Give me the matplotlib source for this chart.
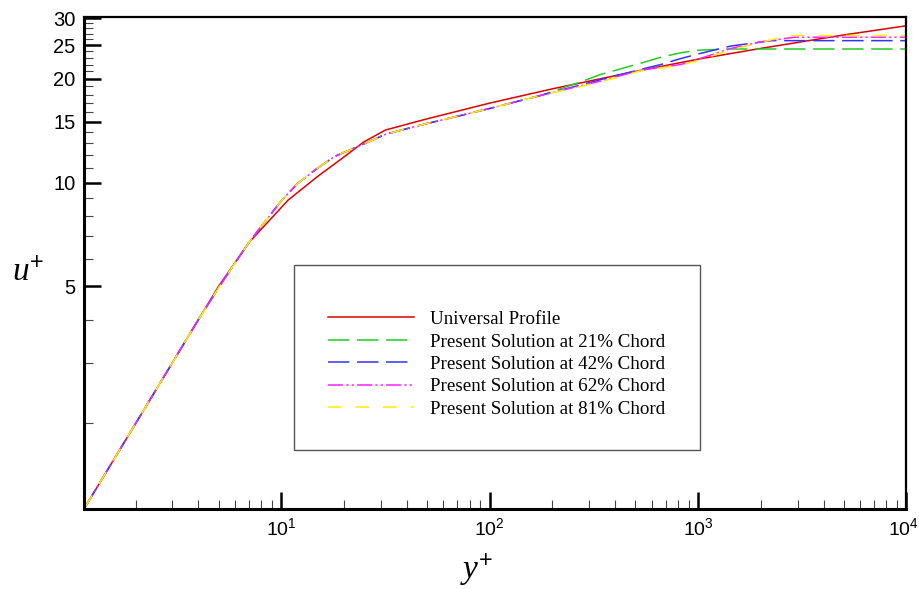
import matplotlib

matplotlib.use("Agg")
import matplotlib.pyplot as plt
from matplotlib.patches import Rectangle
from matplotlib.transforms import ScaledTranslation
from matplotlib.ticker import FixedLocator, FixedFormatter, LogLocator, NullFormatter

plt.rcParams["mathtext.fontset"] = "custom"
plt.rcParams["mathtext.rm"] = "Liberation Sans"
plt.rcParams["mathtext.it"] = "Liberation Serif:italic"
plt.rcParams["mathtext.bf"] = "Liberation Sans:bold"

# Universal law of the wall
yplus_univ = [1.14, 2, 3, 4, 5, 7, 10.8, 14.9, 20.7, 24.8, 31.6, 50, 100, 200, 500, 1000, 2000, 5000, 10000]
uplus_univ = [1.14, 2, 3, 4, 5, 6.7, 8.9, 10.4, 12.05, 13.1, 14.2, 15.3, 17.0, 18.7, 21.0, 22.8, 24.5, 26.8, 28.5]

# inner part shared by all computed stations
yplus_inner = [1.14, 2, 3, 4, 5, 6, 7, 8, 10, 12, 14.6, 18, 23.2, 31.6, 45, 65, 100, 176]
uplus_inner = [1.14, 2, 3, 4, 4.95, 5.85, 6.7, 7.45, 8.85, 9.95, 10.9, 11.9, 12.7, 13.8, 14.6, 15.4, 16.4, 17.9]

yplus_21 = [274, 342, 532, 664, 828, 1000, 1393, 10000]
uplus_21 = [19.6, 20.6, 22.2, 23.1, 23.8, 24.2, 24.4, 24.4]

yplus_42 = [274, 342, 532, 664, 828, 1000, 1442, 2244, 10000]
uplus_42 = [19.2, 19.9, 21.3, 22.0, 22.9, 23.6, 24.9, 25.8, 25.8]

yplus_62 = [274, 342, 532, 828, 1000, 1442, 2000, 2897, 10000]
uplus_62 = [19.1, 19.7, 21.2, 22.0, 22.8, 24.5, 25.6, 26.4, 26.4]

yplus_81 = [274, 342, 532, 828, 1000, 1442, 2000, 2710, 10000]
uplus_81 = [19.0, 19.6, 21.1, 21.9, 22.6, 24.3, 25.5, 26.7, 26.7]

labels = [
    "Universal Profile",
    "Present Solution at 21% Chord",
    "Present Solution at 42% Chord",
    "Present Solution at 62% Chord",
    "Present Solution at 81% Chord",
]

ytick_major = [5, 10, 15, 20, 25, 30]
ytick_minor = [2, 3, 4, 6, 7, 8, 9, 11, 12, 13, 14, 16, 17, 18, 19, 21, 22, 23, 24, 26, 27, 28, 29]
xtick_major = [10, 100, 1000, 10000]

fig = plt.figure(figsize=(9.2, 5.89), dpi=100)
ax = fig.add_axes([0.0913, 0.136, 0.894, 0.835])

ax.plot(yplus_univ, uplus_univ, color="#dd0000", lw=1.1, label=labels[0])
ax.plot(yplus_inner + yplus_21, uplus_inner + uplus_21, color="#22cc22", lw=1.1,
        dashes=(14, 5), label=labels[1])
ax.plot(yplus_inner + yplus_42, uplus_inner + uplus_42, color="#3333ff", lw=1.1,
        dashes=(14, 5), label=labels[2])
ax.plot(yplus_inner + yplus_62, uplus_inner + uplus_62, color="#ff22ff", lw=1.1,
        dashes=(10, 2, 1.5, 2, 1.5, 2), label=labels[3])
ax.plot(yplus_inner + yplus_81, uplus_inner + uplus_81, color="#ffee00", lw=1.1,
        dashes=(9, 9), label=labels[4])

ax.set_xscale("log")
ax.set_yscale("log")
ax.set_xlim(1.13, 10000)
ax.set_ylim(1.13, 30.2)

ax.xaxis.set_major_locator(FixedLocator(xtick_major))
ax.xaxis.set_major_formatter(FixedFormatter([r"$\mathregular{10^{%d}}$" % i for i in range(1, 5)]))
ax.xaxis.set_minor_locator(LogLocator(base=10, subs=range(2, 10)))
ax.xaxis.set_minor_formatter(NullFormatter())

ax.yaxis.set_major_locator(FixedLocator(ytick_major))
ax.yaxis.set_major_formatter(FixedFormatter([str(v) for v in ytick_major]))
ax.yaxis.set_minor_locator(FixedLocator(ytick_minor))
ax.yaxis.set_minor_formatter(NullFormatter())

ax.tick_params(which="major", direction="in", length=12, width=1.8, color="black",
               labelsize=14.5, pad=6)
ax.tick_params(which="minor", direction="in", length=6.5, width=0.8, color="#444444")
ax.tick_params(axis="x", which="major", pad=6, labelsize=14)
for lab in ax.get_xticklabels() + ax.get_yticklabels():
    lab.set_fontfamily("Liberation Sans")

# pull the last x label in so its exponent stays on the canvas
last = ax.get_xticklabels()[-1]
last.set_transform(last.get_transform() + ScaledTranslation(-3 / 100, 0, fig.dpi_scale_trans))

for side in ("left", "bottom"):
    ax.spines[side].set_linewidth(2.2)
for side in ("top", "right"):
    ax.spines[side].set_linewidth(1.6)

ax.set_xlabel(r"$y^{+}$", fontsize=24)
ax.xaxis.set_label_coords(0.478, -0.085)
ax.set_ylabel(r"$u^{+}$", fontsize=24, rotation=0)
ax.yaxis.set_label_coords(-0.068, 0.45)

# framed box around the legend entries
ax.add_patch(Rectangle((0.255, 0.12), 0.494, 0.376, transform=ax.transAxes,
                       facecolor="white", edgecolor="#555555", lw=1.0, zorder=3))
leg = ax.legend(loc="center left", bbox_to_anchor=(0.297, 0.294), frameon=False,
                prop={"family": "Liberation Serif", "size": 13.7}, handlelength=4.5,
                handletextpad=0.85, labelspacing=0.27, borderpad=0, borderaxespad=0)
leg.set_zorder(4)

fig.savefig("out.png", dpi=100)
